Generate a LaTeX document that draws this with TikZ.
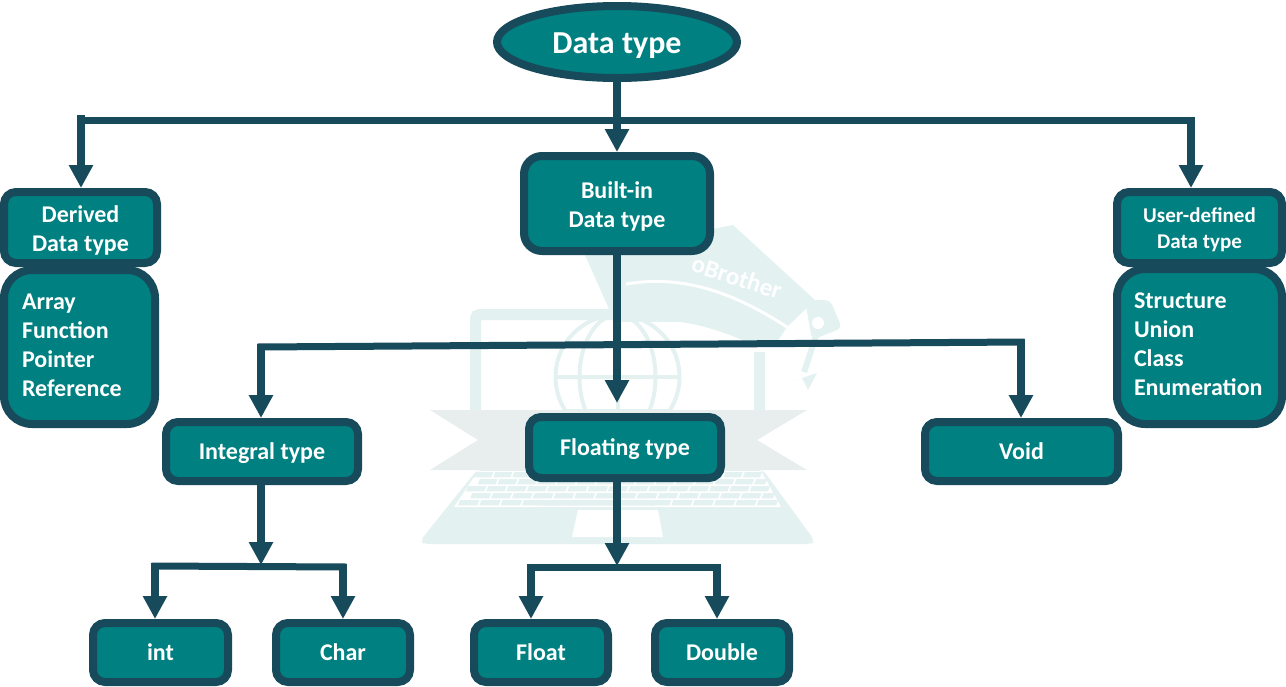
\documentclass[tikz,border=0pt]{standalone}
\usepackage{fontspec}
\setmainfont{Carlito}
\usetikzlibrary{arrows.meta,shapes.geometric}
\definecolor{ln}{HTML}{174A5B}
\definecolor{tl}{HTML}{008080}
\definecolor{wm}{HTML}{E3F1F0}
\definecolor{rb}{HTML}{E8EEEE}
\newcommand{\topgap}[1]{\rule{0pt}{#1}}
\newcommand{\botgap}[1]{\rule[-#1]{0pt}{#1}}
\tikzset{
  x=1pt,y=-1pt,
  boxnode/.style={draw=ln,fill=tl,line width=8pt,rounded corners=12pt,text=white,align=center,inner sep=0pt,font=\bfseries\fontsize{24}{29}\selectfont},
  oneline/.style={boxnode,text height=20pt,text depth=4pt},
  listnode/.style={boxnode,rounded corners=28pt,align=left},
  rootnode/.style={boxnode,ellipse,line width=8pt,text height=28pt,text depth=6pt,font=\bfseries\fontsize{32}{36}\selectfont},
  conn/.style={draw=ln,line width=7pt},
  arrowconn/.style={draw=ln,line width=8pt,-{Triangle[width=23pt,length=23pt]}},
}
\begin{document}
\begin{tikzpicture}
\useasboundingbox (0,0) rectangle (1286,686);
% watermark
\fill[wm] (585,255) -- (733,225) -- (815,300) -- (787,327) -- (775,345) -- (625,345) -- cycle;
\fill[white] (620,322) -- (680,322) .. controls (710,326) and (740,338) .. (768,352) -- (620,352) -- cycle;
\draw[white,line width=3pt] (626,284) .. controls (680,275) and (730,290) .. (787,327);
\draw[wm,line width=11pt,rounded corners=4pt] (475.5,410) -- (475.5,314.5) -- (625,314.5);
\draw[wm,line width=11pt] (759.5,410) -- (759.5,352);
\draw[wm,line width=4pt] (617.5,377) circle (62);
\draw[wm,line width=4pt] (617.5,377) ellipse (38 and 62);
\draw[wm,line width=4pt] (617.5,315) -- (617.5,439) (556,377) -- (679,377) (567,343) -- (668,343) (567,411) -- (668,411);
\fill[wm,rounded corners=5pt] (805,300) -- (830,300) -- (842,328) -- (812,340) -- cycle;
\fill[white] (818,323) circle (6);
\draw[wm,line width=6pt] (818,330) -- (804,372);
\fill[wm] (787,383) -- (817,373) -- (808,390) -- (802,378) -- cycle;
\fill[rb] (430,410) -- (807,410) -- (757,440) -- (807,470) -- (430,470) -- (478,440) -- cycle;
\fill[wm,rounded corners=5pt] (477,470) -- (420,541) -- (424,544) -- (811,544) -- (815,541) -- (763,470) -- cycle;
\fill[white] (478,471) -- (761,471) -- (781,507) -- (454,507) -- cycle;
\foreach \r in {0,...,4}{
  \pgfmathsetmacro\ya{472+7*\r}
  \pgfmathsetmacro\yb{\ya+5.4}
  \pgfmathsetmacro\la{475-4*\r}
  \pgfmathsetmacro\ra{763+4*\r}
  \pgfmathsetmacro\off{mod(\r,2)*0.4}
  \foreach \k in {0,...,14}{
    \pgfmathsetmacro\xa{\la+(\ra-\la)*(\k+\off)/15+1}
    \pgfmathsetmacro\xb{min(\la+(\ra-\la)*(\k+1+\off)/15-1,\ra)}
    \fill[wm] (\xa,\ya) -- (\xb,\ya) -- (\xb-2,\yb) -- (\xa-2,\yb) -- cycle;
  }
}
\fill[wm] (541,500) -- (652,500) -- (654,505.4) -- (540,505.4) -- cycle;
\fill[white] (578,510) -- (658,510) -- (663,537) -- (572,537) -- cycle;
\node[text=white,rotate=-18,font=\bfseries\fontsize{25}{27}\selectfont] (wmtext) at (737,277) {oBrother};
% nodes
\node[rootnode,minimum width=240pt,minimum height=72pt] (root) at (617,42) {Data type};
\node[boxnode,minimum width=153pt,minimum height=71pt] (derived) at (80.5,227.5) {\topgap{22pt}Derived\\Data type};
\node[listnode,minimum width=151pt,minimum height=154pt] (dlist) at (79.5,347) {\parbox{115pt}{Array\\Function\\Pointer\\Reference\botgap{4pt}}};
\node[boxnode,minimum width=186pt,minimum height=95pt,rounded corners=18pt] (builtin) at (617,203.5) {\topgap{22pt}Built-in\\Data type};
\node[boxnode,minimum width=165pt,minimum height=71pt,font=\bfseries\fontsize{21}{26}\selectfont] (user) at (1199.5,227.5) {\topgap{20pt}User-defined\\Data type};
\node[listnode,minimum width=165pt,minimum height=155pt] (ulist) at (1199.5,346.5) {\parbox{131pt}{Structure\\Union\\Class\\Enumeration\botgap{4pt}}};
\node[oneline,minimum width=192pt,minimum height=59pt] (integral) at (262,451.5) {Integral type};
\node[oneline,minimum width=192pt,minimum height=61pt] (floating) at (625,447.5) {Floating type};
\node[oneline,minimum width=193pt,minimum height=59pt] (void) at (1021.5,451.5) {Void};
\node[oneline,minimum width=135pt,minimum height=59pt] (int) at (160.5,652.5) {int};
\node[oneline,minimum width=134pt,minimum height=59pt] (char) at (343,652.5) {Char};
\node[oneline,minimum width=134pt,minimum height=59pt] (float) at (541,652.5) {Float};
\node[oneline,minimum width=134pt,minimum height=59pt] (double) at (722,652.5) {Double};
% junctions
\coordinate (jl) at (81,120);
\coordinate (jr) at (1191,120);
\coordinate (jm) at (617,120);
\coordinate (bl) at (261,347);
\coordinate (br) at (1021,342);
\coordinate (il) at (155,566);
\coordinate (ir) at (343,567);
\coordinate (im) at (261,566);
\coordinate (fl) at (531,567);
\coordinate (fr) at (717,567);
\coordinate (fm) at (617,567);
% connectors
\draw[conn] (77.5,120) -- (1194.5,120);
\draw[arrowconn] (81,115) -- (jl |- derived.north);
\draw[arrowconn] (1191,116.5) -- (jr |- user.north);
\draw[arrowconn] (root.south) -- (jm |- builtin.north);
\draw[conn] (257.5,347) -- (1024.5,342);
\draw[arrowconn] (builtin.south) -- (617,403);
\draw[arrowconn] (261,343.5) -- (bl |- integral.north);
\draw[arrowconn] (1021,338.5) -- (br |- void.north);
\draw[arrowconn] (im |- integral.south) -- (261,565);
\draw[conn] (151.5,566) -- (346.5,567);
\draw[arrowconn] (155,562.5) -- (il |- int.north);
\draw[arrowconn] (343,563.5) -- (ir |- char.north);
\draw[arrowconn] (fm |- floating.south) -- (617,566);
\draw[conn] (527.5,567) -- (720.5,567);
\draw[arrowconn] (531,563.5) -- (fl |- float.north);
\draw[arrowconn] (717,563.5) -- (fr |- double.north);
\end{tikzpicture}
\end{document}
